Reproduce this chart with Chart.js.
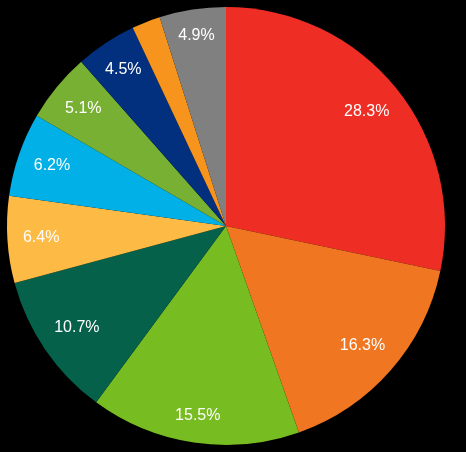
<!DOCTYPE html>
<html>
<head>
<meta charset="utf-8">
<script src="https://cdn.jsdelivr.net/npm/chart.js@4.4.0/dist/chart.umd.min.js"></script>
<style>
  html, body { margin: 0; padding: 0; background: #000; }
  #wrap { position: relative; width: 452px; height: 452px; }
</style>
</head>
<body>
<div id="wrap"><canvas id="chartPie"></canvas></div>
<script>
var labels = ["A", "B", "C", "D", "E", "F", "G", "H", "I", "J"];
var values = [28.3, 16.3, 15.5, 10.7, 6.4, 6.2, 5.1, 4.5, 2.1, 4.9];
var showLabel = [true, true, true, true, true, true, true, true, false, true];
var colors = ["#EE2E24", "#F07622", "#77BC21", "#05614A", "#FDBA45",
              "#00B0E6", "#77B032", "#022F7E", "#F7941D", "#808080"];

// labels sit inside the slice, pushed out until the text box corner
// reaches a fixed inner circle
var sliceLabels = {
    id: 'sliceLabels',
    afterDatasetsDraw: function (chart) {
        var ctx = chart.ctx;
        var meta = chart.getDatasetMeta(0);
        ctx.save();
        ctx.fillStyle = '#ffffff';
        ctx.font = '16px "Liberation Sans", Arial, sans-serif';
        ctx.textAlign = 'center';
        ctx.textBaseline = 'middle';
        meta.data.forEach(function (arc, i) {
            if (!showLabel[i]) return;
            var p = arc.getProps(['x', 'y', 'startAngle', 'endAngle', 'outerRadius'], true);
            var txt = values[i].toFixed(1) + '%';
            var hw = ctx.measureText(txt).width / 2;
            var hh = 8;
            var limit = p.outerRadius - 15;
            var mid = (p.startAngle + p.endAngle) / 2;
            var c = Math.abs(Math.cos(mid)), s = Math.abs(Math.sin(mid));
            var lo = 0, hi = limit;
            for (var k = 0; k < 40; k++) {
                var d = (lo + hi) / 2;
                var cx = d * c + hw, cy = d * s + hh;
                if (Math.sqrt(cx * cx + cy * cy) > limit) hi = d; else lo = d;
            }
            ctx.fillText(txt, p.x + Math.cos(mid) * lo, p.y + Math.sin(mid) * lo);
        });
        ctx.restore();
    }
};

var ctxPie = document.getElementById("chartPie");
var chartPie = new Chart(ctxPie, {
    type: 'pie',
    data: {
        labels: labels,
        datasets: [{
            data: values,
            backgroundColor: colors,
            borderWidth: 0
        }]
    },
    options: {
        responsive: true,
        maintainAspectRatio: false,
        animation: false,
        layout: { padding: 7 },
        plugins: {
            legend: { display: false },
            tooltip: { enabled: false }
        }
    },
    plugins: [sliceLabels]
});
</script>
</body>
</html>
